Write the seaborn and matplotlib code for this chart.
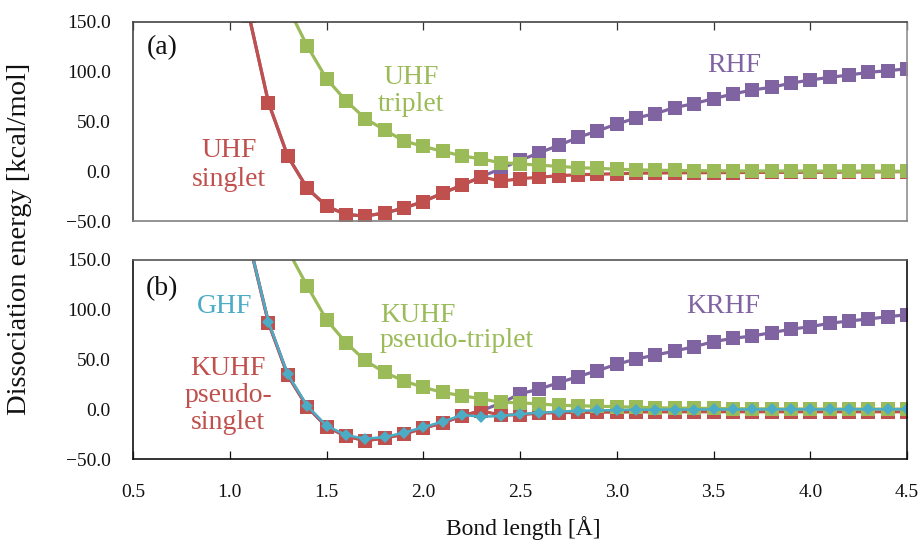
import matplotlib
matplotlib.use('Agg')
import matplotlib.pyplot as plt
import seaborn as sns
from matplotlib.ticker import FuncFormatter

# bond lengths [A]
bond = [1.1, 1.2, 1.3, 1.4, 1.5, 1.6, 1.7, 1.8, 1.9, 2.0, 2.1, 2.2, 2.3, 2.4,
        2.5, 2.6, 2.7, 2.8, 2.9, 3.0, 3.1, 3.2, 3.3, 3.4, 3.5, 3.6, 3.7, 3.8,
        3.9, 4.0, 4.1, 4.2, 4.3, 4.4, 4.5]
bond_trip = bond[2:]   # triplet curves start at 1.3

# panel (a)
uhf_singlet = [156, 69, 15, -17, -35, -43.5, -45, -42, -37, -30.5, -22, -14, -5.5, -10,
               -7.5, -6, -4.5, -3.5, -3, -2.5, -2, -1.8, -1.6, -1.5, -1.4, -1.3, -1.2, -1.1,
               -1.1, -1.0, -1.0, -0.8, -0.6, -0.5, -0.4]
uhf_triplet = [165, 126, 93, 71, 53, 41.5, 30.5, 25, 20, 15.5, 12.3, 8.6,
               7.5, 6, 5, 3.5, 3, 2, 1.5, 1, 0.8, 0.6, 0.5, 0.4, 0.3, 0.3,
               0.2, 0.2, 0.1, 0.1, 0.1, 0.0, 0.0]
rhf = [156, 69, 15, -17, -35, -43.5, -45, -42, -37, -30.5, -22, -14, -5.5, 2.5,
       11, 18.6, 26, 34, 40.5, 47.5, 53.5, 58, 64, 68, 73, 77.6, 81.7, 84.4,
       88.5, 91.7, 94.4, 96.7, 99.4, 101, 103]

# panel (b)
kuhf_singlet = [168, 87, 34, 2.5, -17.5, -27, -31.5, -29, -25, -19, -13.7, -6.8, -1.4, -6,
                -5.5, -4, -3.4, -3.2, -3, -2.8, -2.7, -2.6, -2.6, -2.5, -2.5, -2.5, -2.5, -2.5,
                -2.5, -2.5, -2.5, -2.5, -2.5, -2.5, -2.5]
kuhf_triplet = [160, 124, 90, 67, 49, 37, 28.5, 22, 17, 13.6, 10.5, 7,
                6.5, 5.3, 4, 3.5, 3, 2.6, 2, 1.5, 1.2, 1, 0.8, 0.6, 0.5, 0.4,
                0.3, 0.3, 0.2, 0.2, 0.2, 0.2, 0.2]
ghf = [168, 88, 35, 3.5, -16.5, -26, -29.5, -28, -23.5, -18, -12.5, -5.8, -7.5, -6.8,
       -4.8, -3.4, -2.5, -1.4, -1.2, -0.8, -0.5, -0.4, -0.3, -0.3, -0.2, -0.2, -0.2, -0.1,
       -0.1, -0.1, -0.1, 0.0, 0.0, 0.0, 0.0]
krhf = [168, 87, 34, 2.5, -17.5, -27, -31.5, -29, -25, -19, -13.7, -6.8, -1.4, 6,
        15.5, 20.3, 26.7, 32.8, 38.8, 45.2, 50.5, 54.5, 58.5, 62.9, 67.9, 71.3, 73.6, 77,
        80.4, 83, 86.4, 88.7, 90.7, 93, 95]

red = '#C0504D'
green = '#9BBB59'
purple = '#8064A2'
cyan = '#4BACC6'

sns.set_style('white')
plt.rcParams['font.family'] = ['Liberation Serif', 'DejaVu Serif']

fig = plt.figure(figsize=(9.21, 5.45), dpi=100)
ax1 = fig.add_axes([133/921, 1-221/545, 774/921, 199/545])
ax2 = fig.add_axes([133/921, 1-459/545, 774/921, 199/545])

sq = dict(marker='s', markersize=9.5, markeredgewidth=0, linewidth=2.3)

# (a)
sns.lineplot(x=bond, y=rhf, ax=ax1, color=purple, estimator=None, sort=False, **sq)
sns.lineplot(x=bond, y=uhf_singlet, ax=ax1, color=red, estimator=None, sort=False, **sq)
sns.lineplot(x=bond_trip, y=uhf_triplet, ax=ax1, color=green, estimator=None, sort=False, **sq)

# (b)
sns.lineplot(x=bond, y=krhf, ax=ax2, color=purple, estimator=None, sort=False, **sq)
sns.lineplot(x=bond, y=kuhf_singlet, ax=ax2, color=red, estimator=None, sort=False, **sq)
sns.lineplot(x=bond_trip, y=kuhf_triplet, ax=ax2, color=green, estimator=None, sort=False, **sq)
sns.lineplot(x=bond, y=ghf, ax=ax2, color=cyan, estimator=None, sort=False,
             marker='D', markersize=6.5, markeredgewidth=0, linewidth=1.8)

yfmt = FuncFormatter(lambda v, p: f'{v:.1f}'.replace('-', '\u2212'))
for ax in (ax1, ax2):
    ax.set_xlim(0.5, 4.5)
    ax.set_ylim(-50, 150)
    ax.set_yticks([-50, 0, 50, 100, 150])
    ax.yaxis.set_major_formatter(yfmt)
    ax.set_xticks([0.5, 1.0, 1.5, 2.0, 2.5, 3.0, 3.5, 4.0, 4.5])
    ax.tick_params(axis='y', length=0, pad=16, labelsize=14, colors='#111111')
    ax.set_xlabel('')
    ax.set_ylabel('')

ax1.tick_params(axis='x', direction='in', top=True, bottom=False, labelbottom=False,
                length=6, width=0.9, color='#333333')
ax2.tick_params(axis='x', direction='in', top=False, bottom=True, labelbottom=True,
                length=6, width=0.9, color='#111111', pad=18, labelsize=14, labelcolor='#111111')
ax2.xaxis.set_major_formatter(FuncFormatter(lambda v, p: f'{v:.1f}'))

for name, sp in ax1.spines.items():
    sp.set_linewidth(1.2)
    sp.set_color('#444444')
ax1.spines['bottom'].set_color('#808080')
ax1.spines['right'].set_color('#909090')
for name, sp in ax2.spines.items():
    sp.set_linewidth(1.2)
    sp.set_color('#111111')
ax2.spines['top'].set_color('#555555')

fs = 20
ax1.text(0.65, 124, '(a)', fontsize=fs, ha='center', va='center', color='#111111')
ax1.text(1.937, 81, 'UHF\ntriplet', fontsize=fs, ha='center', va='center', color=green, linespacing=1.1)
ax1.text(0.996, 6, 'UHF\nsinglet', fontsize=fs, ha='center', va='center', color=red, linespacing=1.2)
ax1.text(3.606, 106, 'RHF', fontsize=fs, ha='center', va='center', color=purple)

ax2.text(0.65, 121, '(b)', fontsize=fs, ha='center', va='center', color='#111111')
ax2.text(0.973, 103, 'GHF', fontsize=fs, ha='center', va='center', color=cyan)
ax2.text(0.991, 14, 'KUHF\npseudo-\nsinglet', fontsize=fs, ha='center', va='center', color=red, linespacing=1.1)
ax2.text(1.776, 82, 'KUHF\npseudo-triplet', fontsize=fs, ha='left', va='center', color=green, linespacing=1.0)
ax2.text(3.549, 103, 'KRHF', fontsize=fs, ha='center', va='center', color=purple)

fig.text(20/921, 1-239/545, 'Dissociation energy [kcal/mol]', rotation=90, fontsize=20.5,
         ha='center', va='center', color='#111111')
fig.text(523/921, 1-528/545, 'Bond length [\u00c5]', fontsize=17, ha='center', va='center', color='#111111')

fig.savefig('out.png', dpi=100)
